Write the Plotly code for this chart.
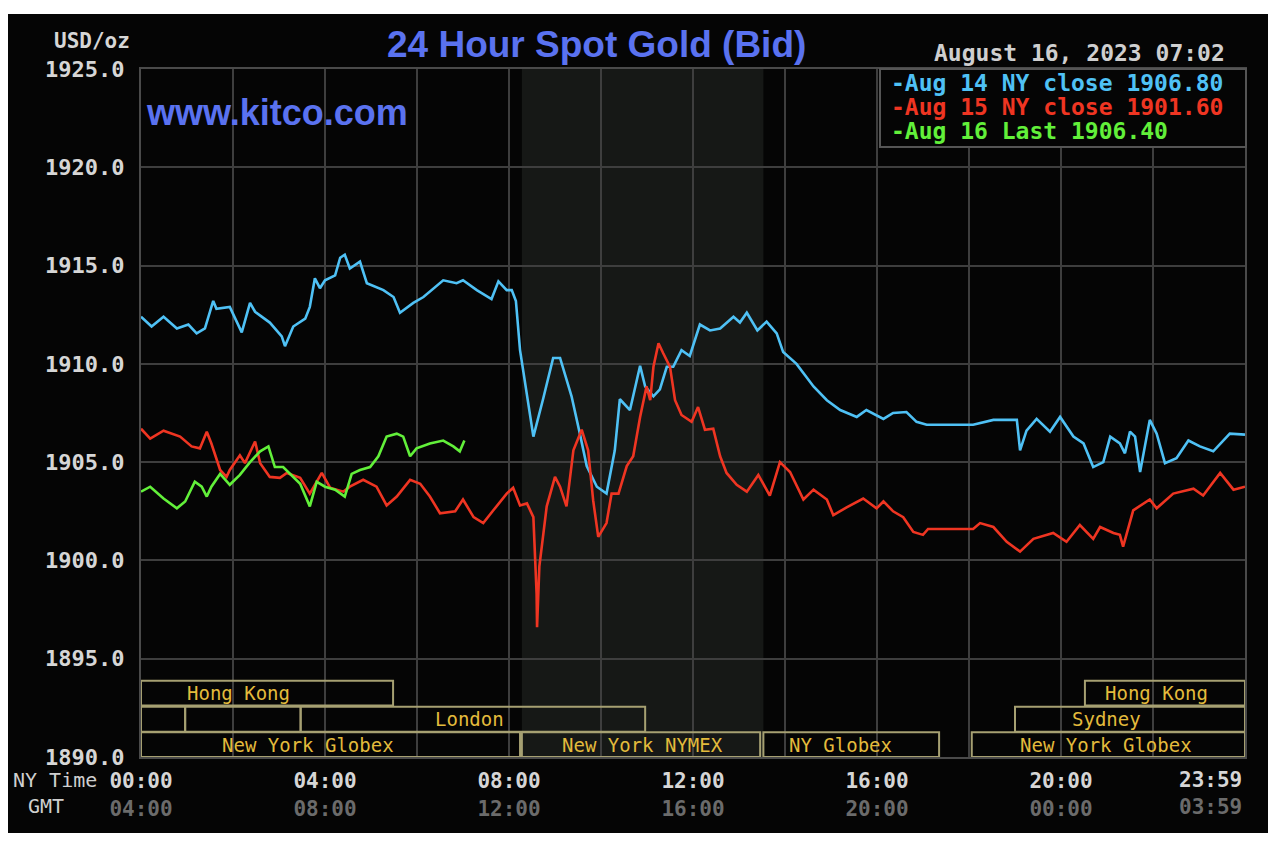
import plotly.graph_objects as go

# ---------------- data ----------------
hours_aug14 = [0.00, 0.23, 0.49, 0.78, 1.03, 1.21, 1.39, 1.57, 1.64, 1.93, 2.19, 2.37, 2.48, 2.80, 3.06, 3.13,
               3.31, 3.57, 3.67, 3.78, 3.89, 4.00, 4.22, 4.33, 4.43, 4.54, 4.76, 4.91, 5.27, 5.49, 5.63, 5.92,
               6.14, 6.57, 6.86, 7.00, 7.30, 7.62, 7.77, 7.95, 8.06, 8.15, 8.24, 8.39, 8.53, 8.74, 8.96, 9.11,
               9.36, 9.54, 9.69, 9.91, 10.12, 10.30, 10.41, 10.63, 10.85, 10.96, 11.14, 11.28, 11.43, 11.57,
               11.75, 11.93, 12.15, 12.37, 12.59, 12.88, 13.02, 13.17, 13.40, 13.60, 13.82, 13.96, 14.25, 14.62,
               14.91, 15.20, 15.56, 15.77, 16.14, 16.35, 16.64, 16.86, 17.08, 18.09, 18.53, 19.04, 19.11, 19.25,
               19.47, 19.76, 19.98, 20.27, 20.49, 20.70, 20.92, 21.07, 21.28, 21.39, 21.50, 21.61, 21.72, 21.93,
               22.08, 22.26, 22.51, 22.77, 23.02, 23.31, 23.67, 24.00]
price_aug14 = [1912.4, 1911.9, 1912.4, 1911.8, 1912.0, 1911.55, 1911.8, 1913.2, 1912.8, 1912.9, 1911.6, 1913.1,
               1912.65, 1912.1, 1911.4, 1910.9, 1911.9, 1912.3, 1912.9, 1914.35, 1913.85, 1914.25, 1914.5, 1915.4,
               1915.55, 1914.85, 1915.2, 1914.1, 1913.75, 1913.4, 1912.6, 1913.1, 1913.4, 1914.25, 1914.1, 1914.25,
               1913.75, 1913.3, 1914.2, 1913.75, 1913.75, 1913.2, 1910.7, 1908.5, 1906.3, 1908.2, 1910.3, 1910.3,
               1908.35, 1906.45, 1904.8, 1903.75, 1903.4, 1905.6, 1908.2, 1907.65, 1909.9, 1908.85, 1908.35, 1908.7,
               1909.85, 1909.85, 1910.7, 1910.4, 1912.0, 1911.7, 1911.8, 1912.4, 1912.1, 1912.6, 1911.7, 1912.15,
               1911.55, 1910.6, 1910.0, 1908.85, 1908.15, 1907.65, 1907.3, 1907.65, 1907.2, 1907.5, 1907.55, 1907.05,
               1906.9, 1906.9, 1907.15, 1907.15, 1905.6, 1906.6, 1907.2, 1906.55, 1907.3, 1906.3, 1905.95, 1904.75,
               1905.0, 1906.3, 1905.95, 1905.45, 1906.55, 1906.3, 1904.5, 1907.15, 1906.45, 1904.95, 1905.2, 1906.1,
               1905.8, 1905.55, 1906.45, 1906.4]

hours_aug15 = [0.00, 0.20, 0.49, 0.85, 1.10, 1.28, 1.43, 1.53, 1.72, 1.86, 1.93, 2.15, 2.26, 2.48, 2.59, 2.80,
               3.02, 3.17, 3.46, 3.67, 3.93, 4.11, 4.40, 4.54, 4.83, 5.12, 5.34, 5.56, 5.85, 6.07, 6.28, 6.50,
               6.83, 7.00, 7.23, 7.44, 7.66, 7.95, 8.09, 8.24, 8.39, 8.53, 8.60, 8.61, 8.66, 8.82, 9.00, 9.11,
               9.25, 9.40, 9.58, 9.72, 9.83, 9.94, 10.12, 10.23, 10.38, 10.56, 10.70, 10.85, 10.99, 11.07, 11.14,
               11.25, 11.35, 11.50, 11.61, 11.75, 11.97, 12.11, 12.26, 12.44, 12.59, 12.73, 12.95, 13.17, 13.42,
               13.67, 13.89, 14.11, 14.40, 14.62, 14.91, 15.05, 15.34, 15.70, 15.99, 16.14, 16.35, 16.57, 16.79,
               17.00, 17.11, 18.09, 18.24, 18.53, 18.82, 19.11, 19.40, 19.83, 20.12, 20.41, 20.70, 20.85, 21.14,
               21.28, 21.35, 21.57, 21.93, 22.08, 22.44, 22.88, 23.09, 23.46, 23.75, 24.00]
price_aug15 = [1906.7, 1906.2, 1906.6, 1906.3, 1905.8, 1905.7, 1906.55, 1905.95, 1904.6, 1904.25, 1904.6, 1905.35,
               1904.95, 1906.05, 1904.95, 1904.25, 1904.2, 1904.45, 1904.2, 1903.4, 1904.45, 1903.7, 1903.5, 1903.75,
               1904.1, 1903.75, 1902.8, 1903.25, 1904.1, 1903.9, 1903.25, 1902.4, 1902.5, 1903.1, 1902.2, 1901.9,
               1902.55, 1903.4, 1903.7, 1902.8, 1902.9, 1902.2, 1898.3, 1896.6, 1899.7, 1902.75, 1904.25, 1903.75,
               1902.75, 1905.6, 1906.65, 1905.6, 1903.05, 1901.2, 1901.9, 1903.4, 1903.4, 1904.8, 1905.3, 1907.3,
               1908.85, 1908.15, 1909.85, 1911.05, 1910.55, 1909.85, 1908.15, 1907.4, 1907.05, 1907.8, 1906.65,
               1906.7, 1905.3, 1904.45, 1903.85, 1903.5, 1904.35, 1903.3, 1905.0, 1904.5, 1903.1, 1903.6, 1903.1,
               1902.3, 1902.7, 1903.15, 1902.65, 1903.0, 1902.5, 1902.2, 1901.45, 1901.3, 1901.6, 1901.6, 1901.9,
               1901.7, 1900.95, 1900.45, 1901.1, 1901.4, 1900.95, 1901.8, 1901.1, 1901.7, 1901.4, 1901.3, 1900.7,
               1902.55, 1903.1, 1902.65, 1903.4, 1903.65, 1903.3, 1904.45, 1903.6, 1903.75]

hours_aug16 = [0.00, 0.20, 0.49, 0.78, 0.96, 1.17, 1.32, 1.43, 1.53, 1.72, 1.93, 2.15, 2.37, 2.59, 2.77, 2.91,
               3.09, 3.31, 3.46, 3.67, 3.82, 4.00, 4.22, 4.43, 4.58, 4.76, 4.98, 5.16, 5.34, 5.56, 5.70, 5.85,
               5.99, 6.28, 6.57, 6.79, 6.93, 7.03]
price_aug16 = [1903.5, 1903.75, 1903.15, 1902.65, 1903.0, 1904.0, 1903.75, 1903.25, 1903.75, 1904.4, 1903.85,
               1904.35, 1905.0, 1905.55, 1905.8, 1904.75, 1904.75, 1904.25, 1903.9, 1902.75, 1904.0, 1903.75,
               1903.6, 1903.25, 1904.4, 1904.6, 1904.75, 1905.3, 1906.3, 1906.45, 1906.3, 1905.3, 1905.7, 1905.95,
               1906.1, 1905.8, 1905.55, 1906.1]

series_names = ["Aug 14 NY close 1906.80", "Aug 15 NY close 1901.60", "Aug 16 Last 1906.40"]

y_ticks = [1890, 1895, 1900, 1905, 1910, 1915, 1920, 1925]
x_grid_hours = [0, 2, 4, 6, 8, 10, 12, 14, 16, 18, 20, 22, 24]
ny_time_labels = {0: "00:00", 4: "04:00", 8: "08:00", 12: "12:00", 16: "16:00", 20: "20:00"}
gmt_time_labels = {0: "04:00", 4: "08:00", 8: "12:00", 12: "16:00", 16: "20:00", 20: "00:00"}
last_ny_label, last_gmt_label = "23:59", "03:59"

session_labels = ["Hong Kong", "Hong Kong", "", "", "London", "Sydney",
                  "New York Globex", "New York NYMEX", "NY Globex", "New York Globex"]
session_start = [0.0, 20.52, 0.0, 0.96, 3.47, 19.0, 0.0, 8.28, 13.53, 18.06]
session_end = [5.48, 24.0, 0.96, 3.47, 10.96, 24.0, 8.24, 13.46, 17.35, 24.0]
session_row = [2, 2, 1, 1, 1, 1, 0, 0, 0, 0]
session_label_x = [2.13, 22.07, None, None, 7.15, 20.98, 3.63, 10.9, 15.2, 20.98]
nymex_start, nymex_end = 8.28, 13.53

# ---------------- layout geometry ----------------
W, H = 1280, 846
L, R, T, B = 141, 35, 69, 89
PW, PH = W - L - R, H - T - B


def px(x):
    return (x - L) / PW


def py(y):
    return (H - B - y) / PH


GRID = "#3e3e3e"
MONO = "DejaVu Sans Mono"
SANS = "Liberation Sans"
colors = ["#4fc1f5", "#ef3522", "#62f03a"]

fig = go.Figure()
for xs, ys, c, n in zip([hours_aug14, hours_aug15, hours_aug16],
                        [price_aug14, price_aug15, price_aug16], colors, series_names):
    fig.add_trace(go.Scatter(x=xs, y=ys, mode="lines", name=n,
                             line=dict(color=c, width=2.6), showlegend=False, hoverinfo="skip"))

shapes = []
# black chart card on white page
shapes.append(dict(type="rect", xref="paper", yref="paper", x0=px(8), x1=px(1268), y0=py(833), y1=py(14),
                   fillcolor="#050505", line=dict(width=0), layer="below"))
# NYMEX shaded region
shapes.append(dict(type="rect", xref="x", yref="paper", x0=nymex_start, x1=nymex_end, y0=0, y1=1,
                   fillcolor="#161816", line=dict(width=0), layer="below"))
# session boxes
row_bottom = [1890.0, 1891.29, 1892.62]
row_h = 1.26
annotations = []
for lab, s, e, r, lx in zip(session_labels, session_start, session_end, session_row, session_label_x):
    y0 = row_bottom[r]
    shapes.append(dict(type="rect", xref="x", yref="y", x0=s, x1=e, y0=y0, y1=y0 + row_h,
                       line=dict(color="#a6a072", width=2), fillcolor="rgba(0,0,0,0)", layer="above"))
    if lab:
        annotations.append(dict(x=lx, y=y0 + row_h / 2, xref="x", yref="y", text=lab, showarrow=False,
                                font=dict(family=MONO, size=19, color="#e3bb3c"),
                                xanchor="center", yanchor="middle"))
# legend box
shapes.append(dict(type="rect", xref="paper", yref="paper", x0=px(880), x1=px(1246), y0=py(147), y1=py(69),
                   fillcolor="#050505", line=dict(color="#555555", width=2), layer="above"))

for i, (n, c) in enumerate(zip(series_names, colors)):
    annotations.append(dict(x=px(889), y=py(83 + 24 * i), xref="paper", yref="paper", text="-" + n,
                            showarrow=False, xanchor="left", yanchor="middle",
                            font=dict(family=MONO, size=23, color=c, weight="bold")))

annotations += [
    dict(x=px(596), y=py(45), xref="paper", yref="paper", text="24 Hour Spot Gold (Bid)", showarrow=False,
         xanchor="center", yanchor="middle", font=dict(family=SANS, size=37, color="#5a72f0", weight="bold")),
    dict(x=px(144), y=py(112), xref="paper", yref="paper", text="www.kitco.com", showarrow=False,
         xanchor="left", yanchor="middle", font=dict(family=SANS, size=36, color="#5a72f0", weight="bold")),
    dict(x=px(132), y=py(41), xref="paper", yref="paper", text="USD/oz", showarrow=False,
         xanchor="right", yanchor="middle", font=dict(family=MONO, size=21, color="#d6d6d6", weight="bold")),
    dict(x=px(1227), y=py(53), xref="paper", yref="paper", text="August 16, 2023 07:02", showarrow=False,
         xanchor="right", yanchor="middle", font=dict(family=MONO, size=23, color="#cfcfcf", weight="bold")),
    dict(x=px(99), y=py(780), xref="paper", yref="paper", text="NY Time", showarrow=False,
         xanchor="right", yanchor="middle", font=dict(family=MONO, size=20, color="#cfcfcf")),
    dict(x=px(46), y=py(806), xref="paper", yref="paper", text="GMT", showarrow=False,
         xanchor="center", yanchor="middle", font=dict(family=MONO, size=20, color="#cfcfcf")),
    dict(x=23.25, y=py(780), xref="x", yref="paper", text=last_ny_label, showarrow=False,
         xanchor="center", yanchor="middle", font=dict(family=MONO, size=21, color="#d6d6d6", weight="bold")),
    dict(x=23.25, y=py(807), xref="x", yref="paper", text=last_gmt_label, showarrow=False,
         xanchor="center", yanchor="middle", font=dict(family=MONO, size=21, color="#6b6b6b", weight="bold")),
]

x_ticktext = []
for h in x_grid_hours:
    if h in ny_time_labels:
        x_ticktext.append(f"{ny_time_labels[h]}<br><span style='color:#6b6b6b'>{gmt_time_labels[h]}</span>")
    else:
        x_ticktext.append("")

fig.update_layout(
    width=W, height=H,
    margin=dict(l=L, r=R, t=T, b=B, pad=0),
    paper_bgcolor="white", plot_bgcolor="rgba(0,0,0,0)",
    shapes=shapes, annotations=annotations,
    showlegend=False,
    xaxis=dict(range=[0, 24], tickvals=x_grid_hours, ticktext=x_ticktext, showgrid=True,
               gridcolor=GRID, gridwidth=2, zeroline=False, showline=True, mirror=True,
               linecolor="#4a4a4a", linewidth=2, ticks="", ticklabelstandoff=4,
               tickfont=dict(family=MONO, size=21, color="#d6d6d6", weight="bold"), fixedrange=True),
    yaxis=dict(range=[1890, 1925], tickvals=y_ticks, ticktext=[f"{v:.1f}" for v in y_ticks], showgrid=True,
               gridcolor=GRID, gridwidth=2, zeroline=False, showline=True, mirror=True,
               linecolor="#4a4a4a", linewidth=2, ticks="", ticklabelstandoff=10,
               tickfont=dict(family=MONO, size=22, color="#d6d6d6", weight="bold"), fixedrange=True),
)

fig.write_html("out.html")
